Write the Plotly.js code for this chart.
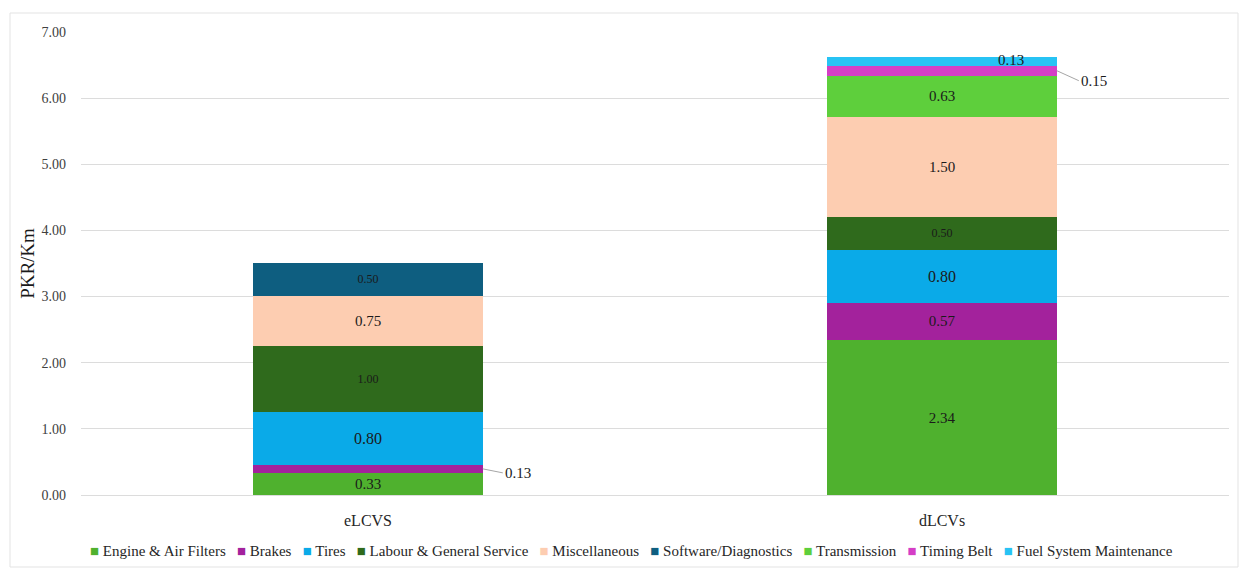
<!DOCTYPE html>
<html>
<head>
<meta charset="utf-8">
<script src="https://cdn.plot.ly/plotly-3.0.1.min.js"></script>
<style>html,body{margin:0;padding:0;background:#fff;}#chart{width:1239px;height:568px;}</style>
</head>
<body>
<div id="chart"></div>
<script>
const categories = ["eLCVS", "dLCVs"];
const seriesNames = ["Engine & Air Filters", "Brakes", "Tires", "Labour & General Service", "Miscellaneous", "Software/Diagnostics", "Transmission", "Timing Belt", "Fuel System Maintenance"];
const engine = [0.33, 2.34];
const brakes = [0.13, 0.57];
const tires = [0.80, 0.80];
const labour = [1.00, 0.50];
const misc = [0.75, 1.50];
const software = [0.50, 0];
const transmission = [0, 0.63];
const timingBelt = [0, 0.15];
const fuelSystem = [0, 0.13];
const yTicks = [0, 1, 2, 3, 4, 5, 6, 7];

const seriesValues = [engine, brakes, tires, labour, misc, software, transmission, timingBelt, fuelSystem];
const colors = ["#4fb12e", "#a3229c", "#0aaae8", "#2f6a1c", "#fdcdb1", "#0e5e80", "#5ecf3c", "#d53ec6", "#27c3f4"];
const labelSizes = [15, 15, 16, 12, 15, 12, 15, 15, 15];
const outside = [[1, 0], [7, 1], [8, 1]];
const isOutside = (s, c) => outside.some(o => o[0] === s && o[1] === c);

const FONT = "Liberation Serif, DejaVu Serif, serif";

const traces = seriesValues.map((vals, s) => ({
  type: "bar",
  name: seriesNames[s],
  x: categories,
  y: vals,
  marker: {color: colors[s]},
  width: 0.4,
  text: vals.map((v, c) => (v > 0 && !isOutside(s, c)) ? v.toFixed(2) : ""),
  textposition: "inside",
  insidetextanchor: "middle",
  textangle: 0,
  constraintext: "none",
  textfont: {family: FONT, size: labelSizes[s], color: "#1a1a1a"},
  hoverinfo: "name+y",
  showlegend: false
}));

function bottom(s, c) { let b = 0; for (let i = 0; i < s; i++) b += seriesValues[i][c]; return b; }

const annotations = [];
annotations.push({x: 0 + 0.2, y: bottom(1, 0) + brakes[0] / 2, xref: "x", yref: "y",
  text: brakes[0].toFixed(2), showarrow: true, arrowhead: 0, arrowwidth: 1, arrowcolor: "#a6a6a6",
  ax: 20, ay: 4, xanchor: "left", yanchor: "middle", font: {family: FONT, size: 15, color: "#1a1a1a"}});
annotations.push({x: 1 + 0.2, y: bottom(7, 1) + timingBelt[1] / 2, xref: "x", yref: "y",
  text: timingBelt[1].toFixed(2), showarrow: true, arrowhead: 0, arrowwidth: 1, arrowcolor: "#a6a6a6",
  ax: 22, ay: 10, xanchor: "left", font: {family: FONT, size: 15, color: "#1a1a1a"}});
annotations.push({x: 1 + 0.12, y: bottom(8, 1) + fuelSystem[1] / 2, xref: "x", yref: "y",
  text: fuelSystem[1].toFixed(2), showarrow: false, yshift: 1,
  font: {family: FONT, size: 15, color: "#1a1a1a"}});

const pl = 81, pr = 1229, pt = 32, pb = 495;
const pw = pr - pl, ph = pb - pt;

const legendText = seriesNames.map((n, s) =>
  '<span style="color:' + colors[s] + '">■</span> ' + n).join('&nbsp;&nbsp;&nbsp;');
annotations.push({xref: "paper", yref: "paper", x: (631 - pl) / pw, y: (pb - 551) / ph, xanchor: "center", yanchor: "middle",
  showarrow: false, text: legendText, font: {family: FONT, size: 15, color: "#262626"}});

const layout = {
  width: 1239, height: 568,
  margin: {l: pl, r: 1239 - pr, t: pt, b: 568 - pb},
  paper_bgcolor: "#ffffff", plot_bgcolor: "#ffffff",
  barmode: "stack",
  font: {family: FONT, color: "#404040"},
  showlegend: false,
  xaxis: {
    type: "category", showgrid: false, zeroline: false, showline: false, ticks: "",
    tickfont: {family: FONT, size: 16, color: "#262626"}, ticklabelstandoff: 14
  },
  yaxis: {
    range: [0, 7], tickvals: yTicks, ticktext: yTicks.map(v => v.toFixed(2)),
    showgrid: true, gridcolor: "#dcdcdc", gridwidth: 1, zeroline: true, zerolinecolor: "#dcdcdc",
    showline: false, ticks: "", ticklabelstandoff: 14,
    tickfont: {family: FONT, size: 14, color: "#404040"},
    title: {text: "PKR/Km", font: {family: FONT, size: 19, color: "#1a1a1a"}, standoff: 1}
  },
  annotations: annotations,
  shapes: [{
    type: "rect", xref: "paper", yref: "paper",
    x0: (10 - pl) / pw, x1: (1238 - pl) / pw,
    y0: (pb - 567) / ph, y1: (pb - 13) / ph,
    line: {color: "#e3e3e3", width: 1}, fillcolor: "rgba(0,0,0,0)", layer: "below"
  }]
};

Plotly.newPlot("chart", traces, layout, {displayModeBar: false, staticPlot: true});
</script>
</body>
</html>
